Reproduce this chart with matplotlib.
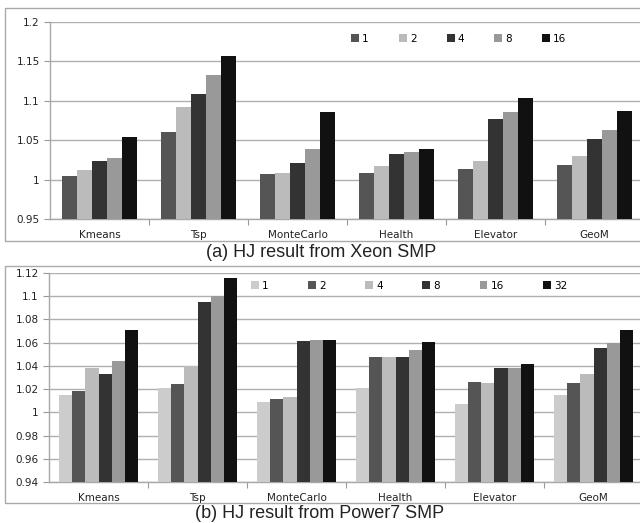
import matplotlib.pyplot as plt
import matplotlib.patches as patches
import numpy as np

benchmarks = ['Kmeans', 'Tsp', 'MonteCarlo', 'Health', 'Elevator', 'GeoM']

# (a) Xeon SMP
xeon_threads = ['1', '2', '4', '8', '16']
xeon_vals = [
    [1.004, 1.061, 1.007, 1.008, 1.013, 1.019],  # 1
    [1.012, 1.092, 1.009, 1.017, 1.023, 1.030],  # 2
    [1.023, 1.109, 1.021, 1.032, 1.077, 1.051],  # 4
    [1.027, 1.133, 1.039, 1.035, 1.086, 1.063],  # 8
    [1.054, 1.157, 1.086, 1.039, 1.104, 1.087],  # 16
]
xeon_colors = ['#555555', '#bbbbbb', '#333333', '#999999', '#111111']

# (b) Power7 SMP
power_threads = ['1', '2', '4', '8', '16', '32']
power_vals = [
    [1.0145, 1.021, 1.0087, 1.021, 1.007, 1.0145],  # 1
    [1.018, 1.024, 1.0116, 1.048, 1.026, 1.025],    # 2
    [1.038, 1.040, 1.0136, 1.048, 1.025, 1.033],    # 4
    [1.033, 1.095, 1.0616, 1.048, 1.038, 1.055],    # 8
    [1.044, 1.100, 1.0627, 1.054, 1.0386, 1.060],   # 16
    [1.071, 1.1156, 1.0627, 1.061, 1.0415, 1.0705], # 32
]
power_colors = ['#cccccc', '#555555', '#bbbbbb', '#333333', '#999999', '#111111']

fig = plt.figure(figsize=(6.4, 5.23), dpi=100)
W, H = 640.0, 523.0


def px_axes(left, top, right, bottom):
    return fig.add_axes([left / W, 1 - bottom / H, (right - left) / W, (bottom - top) / H])


def draw(ax, vals, labels, colors, group_w, ylim, yticks, ytl):
    n = len(vals)
    x = np.arange(len(benchmarks))
    bw = group_w / n
    for i in range(n):
        ax.bar(x - group_w / 2 + bw * (i + 0.5), np.array(vals[i]) - ylim[0], bw,
               bottom=ylim[0], color=colors[i], label=labels[i], zorder=3)
    ax.set_xlim(-0.5, 5.5)
    ax.set_ylim(*ylim)
    ax.set_yticks(yticks)
    ax.set_yticklabels(ytl)
    ax.set_xticks(np.arange(0.5, 5.5, 1.0))
    ax.set_xticklabels([])
    ax.set_xticks(x, minor=True)
    ax.set_xticklabels(benchmarks, minor=True)
    ax.tick_params(axis='x', which='minor', length=0, pad=8, labelsize=7.5, colors='#222222')
    ax.tick_params(axis='x', which='major', length=4, color='#999999', direction='out')
    ax.tick_params(axis='y', length=4, color='#999999', labelsize=7.5, colors='#222222')
    ax.yaxis.grid(True, color='#b0b0b0', lw=1.0, zorder=0)
    for s in ['top', 'right']:
        ax.spines[s].set_visible(False)
    for s in ['left', 'bottom']:
        ax.spines[s].set_color('#a8a8a8')
        ax.spines[s].set_linewidth(1.0)


# top chart
ax1 = px_axes(50, 22, 644, 219)
draw(ax1, xeon_vals, xeon_threads, xeon_colors, 0.75, (0.95, 1.2),
     [0.95, 1.0, 1.05, 1.1, 1.15, 1.2], ['0.95', '1', '1.05', '1.1', '1.15', '1.2'])
ax1.legend(ncol=5, frameon=False, loc='center left', bbox_to_anchor=(0.507, 0.914),
           handlelength=0.75, handleheight=0.75, handletextpad=0.3, columnspacing=2.9,
           prop={'size': 7.5}, borderaxespad=0, borderpad=0)

# bottom chart
ax2 = px_axes(49, 273, 643, 482)
draw(ax2, power_vals, power_threads, power_colors, 0.8, (0.94, 1.12),
     [0.94, 0.96, 0.98, 1.0, 1.02, 1.04, 1.06, 1.08, 1.1, 1.12],
     ['0.94', '0.96', '0.98', '1', '1.02', '1.04', '1.06', '1.08', '1.1', '1.12'])
ax2.legend(ncol=6, frameon=False, loc='center left', bbox_to_anchor=(0.340, 0.94),
           handlelength=0.75, handleheight=0.75, handletextpad=0.3, columnspacing=3.8,
           prop={'size': 7.5}, borderaxespad=0, borderpad=0)

# chart boxes
for top, bottom in [(8, 241), (266, 503)]:
    fig.patches.append(patches.Rectangle((5 / W, 1 - bottom / H), 700 / W, (bottom - top) / H,
                                         transform=fig.transFigure, fill=False,
                                         edgecolor='#aaaaaa', lw=1.0))

fig.text(321 / W, 1 - 253 / H, '(a) HJ result from Xeon SMP', ha='center', va='center',
         fontsize=13, family='Liberation Sans', color='#222222')
fig.text(320 / W, 1 - 513 / H, '(b) HJ result from Power7 SMP', ha='center', va='center',
         fontsize=13, family='Liberation Sans', color='#222222')

fig.savefig('out.png', dpi=100)
